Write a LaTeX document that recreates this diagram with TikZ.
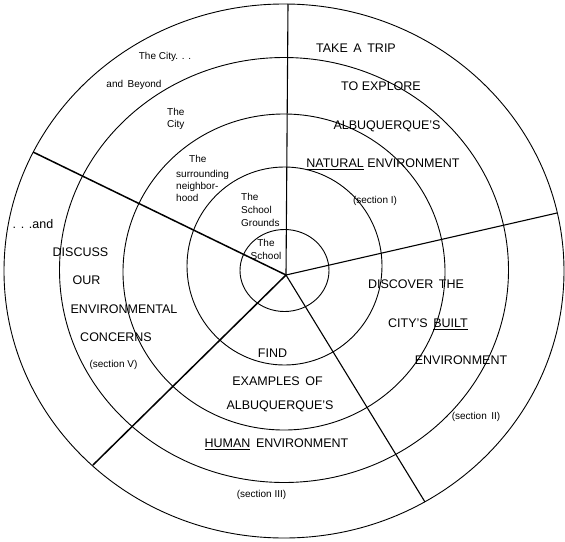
\documentclass[tikz,border=0pt]{standalone}
\usepackage{fontspec}
\setmainfont{Liberation Sans}
\begin{document}
\begin{tikzpicture}[x=1pt,y=-1pt,
  ring/.style={line width=0.9pt},
  spoke/.style={line width=1.1pt},
  thickspoke/.style={line width=1.5pt},
  big/.style={font=\fontsize{12.5}{14}\selectfont, inner sep=0pt, text height=9pt, text depth=0pt},
  small/.style={font=\fontsize{10}{12}\selectfont, inner sep=0pt, text height=7.2pt, text depth=0pt}]
\useasboundingbox (0,0) rectangle (565,541);
% rings
\coordinate (c1) at (284,271);
\coordinate (c2) at (284,270);
\coordinate (c3) at (284,272);
\coordinate (c4) at (284.5,266);
\coordinate (c5) at (284.5,270.5);
\draw[ring] (c1) ellipse [x radius=280pt, y radius=267pt];
\draw[ring] (c2) ellipse [x radius=224.5pt, y radius=212.5pt];
\draw[ring] (c3) ellipse [x radius=161pt, y radius=158pt];
\draw[ring] (c4) ellipse [x radius=97.5pt, y radius=99pt];
\draw[ring] (c5) ellipse [x radius=44.5pt, y radius=41pt];
% spokes
\coordinate (hub) at (286,275);
\coordinate (eN) at (288,4);
\coordinate (eE) at (557,213);
\coordinate (eSE) at (425,502);
\coordinate (eSW) at (93,465);
\coordinate (eNW) at (33,152);
\draw[spoke] (hub) -- (eN);
\draw[spoke] (hub) -- (eE);
\draw[spoke] (hub) -- (eSE);
\draw[thickspoke] (hub) -- (eSW);
\draw[thickspoke] (hub) -- (eNW);
% left labels (scales)
\node[small] (cityb) at (165,56) {The City. . .};
\node[small] (beyond) at (134,84) {and\, Beyond};
\node[small,anchor=west] (city1) at (167,112) {The};
\node[small,anchor=west] (city2) at (167,124) {City};
\node[small,anchor=west] (nb1) at (189,159) {The};
\node[small,anchor=west] (nb2) at (176,174) {surrounding};
\node[small,anchor=west] (nb3) at (176,186) {neighbor-};
\node[small,anchor=west] (nb4) at (176,198) {hood};
\node[small,anchor=west] (sg1) at (241,197) {The};
\node[small,anchor=west] (sg2) at (241,210) {School};
\node[small,anchor=west] (sg3) at (241,223) {Grounds};
\node[small] (sc1) at (266,243) {The};
\node[small] (sc2) at (266,256) {School};
% section I
\node[big] (s1a) at (356,48) {TAKE\, A\, TRIP};
\node[big] (s1b) at (381,86) {TO EXPLORE};
\node[big] (s1c) at (387,125) {ALBUQUERQUE'S};
\node[big] (s1d) at (383,163) {\underline{NATURAL} ENVIRONMENT};
\node[small] (s1e) at (375,200) {(section I)};
% section II
\node[big] (s2a) at (416,284) {DISCOVER\, THE};
\node[big] (s2b) at (428,323) {CITY'S\, \underline{BUILT}};
\node[big] (s2c) at (461,360) {ENVIRONMENT};
\node[small] (s2d) at (476,416) {(section\, II)};
% section III
\node[big] (s3a) at (272.5,353) {FIND};
\node[big] (s3b) at (277.5,381) {EXAMPLES\, OF};
\node[big] (s3c) at (280,405) {ALBUQUERQUE'S};
\node[big] (s3d) at (276.5,443) {\underline{HUMAN}\, ENVIRONMENT};
\node[small] (s3e) at (261.5,494) {(section III)};
% section V
\node[big] (s5a) at (33,224) {. . .and};
\node[big] (s5b) at (80.5,252) {DISCUSS};
\node[big] (s5c) at (86.5,280) {OUR};
\node[big] (s5d) at (124,309) {ENVIRONMENTAL};
\node[big] (s5e) at (116,337) {CONCERNS};
\node[small] (s5f) at (113.5,364) {(section V)};
\end{tikzpicture}
\end{document}
